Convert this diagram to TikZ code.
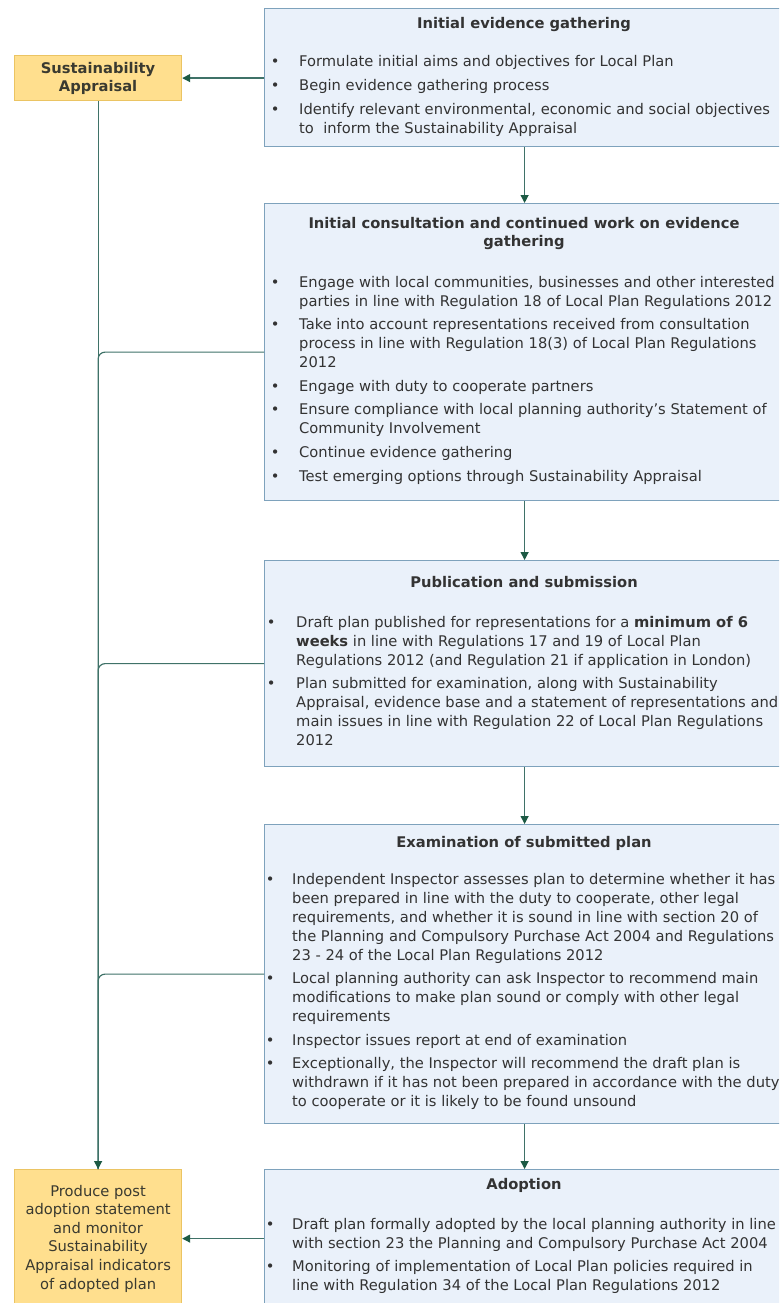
\documentclass[tikz,border=0pt]{standalone}
\usepackage{fontspec}
\setmainfont{DejaVu Sans}
\usetikzlibrary{arrows.meta}
\definecolor{boxfill}{HTML}{EAF1FA}
\definecolor{boxdraw}{HTML}{7EA2BC}
\definecolor{yfill}{HTML}{FFDF8E}
\definecolor{ydraw}{HTML}{EBC463}
\definecolor{conn}{HTML}{3F7268}
\definecolor{tipc}{HTML}{1D5A44}
\definecolor{txt}{HTML}{333333}
\definecolor{ytxt}{HTML}{3A3A30}
\newlength{\bw}
\newcommand{\bitem}[1]{\hangindent=\bw\hangafter=1\noindent\makebox[\bw][l]{\textbullet}#1\par}
\newcommand{\blist}[2]{\setlength{\bw}{#1}\parbox[t]{560pt}{\rightskip=0pt plus 1fil\parfillskip=0pt plus 1fil\fontsize{14.7}{19}\selectfont\setlength{\parskip}{4.6pt}#2}}
\begin{document}
\begin{tikzpicture}[x=1pt,y=-1pt,
  font=\fontsize{14.7}{19}\selectfont, text=txt,
  bbox/.style={anchor=north west, minimum width=520pt, draw=boxdraw, fill=boxfill, line width=1.2pt, inner sep=0pt},
  ybox/.style={anchor=north west, minimum width=167pt, draw=ydraw, fill=yfill, line width=1.2pt, inner sep=0pt},
  ttl/.style={font=\fontsize{14.7}{18}\selectfont\bfseries, anchor=base, inner sep=0pt},
  lst/.style={anchor=base west, inner sep=0pt},
  con/.style={draw=conn, line width=1.2pt},
  arr/.style={con, -{Triangle[length=8pt,width=8pt,color=tipc]}}]
\useasboundingbox (0,0) rectangle (779,1303);
\clip (0,0) rectangle (779,1303);
% boxes
\node[bbox, minimum height=138pt] (b1) at (264,8) {};
\node[bbox, minimum height=297pt] (b2) at (264,203) {};
\node[bbox, minimum height=206pt] (b3) at (264,560) {};
\node[bbox, minimum height=299pt] (b4) at (264,824) {};
\node[bbox, minimum height=138pt] (b5) at (264,1169) {};
\node[ybox, minimum height=45pt] (sa) at (14,55) {};
\node[ybox, minimum height=138pt] (pa) at (14,1169) {};
% connectors
\draw[arr] (b1.west |- sa.east) -- (sa.east);
\draw[arr] (b1.south) -- (b2.north);
\draw[arr] (b2.south) -- (b3.north);
\draw[arr] (b3.south) -- (b4.north);
\draw[arr] (b4.south) -- (b5.north);
\draw[con, rounded corners=7pt] (b2.west) -| (pa.north);
\draw[con, rounded corners=7pt] (b3.west) -| (pa.north);
\draw[con, rounded corners=7pt] (b4.west) -| (pa.north);
\draw[arr] (sa.south) -- (pa.north);
\draw[arr] (b5.west |- pa.east) -- (pa.east);
% yellow texts
\node[font=\fontsize{14.7}{18}\selectfont\bfseries, align=center, text=ytxt] (sat) at (sa.center) {Sustainability\\Appraisal};
\node[font=\fontsize{14.7}{18.6}\selectfont, align=center, text=ytxt] (pat) at (pa.center) {Produce post\\adoption statement\\and monitor\\Sustainability\\Appraisal indicators\\of adopted plan};
% titles
\node[ttl] (t1) at (524,29) {Initial evidence gathering};
\node[ttl, anchor=center, align=center] (t2) at (524,234) {Initial consultation and continued work on evidence\\gathering};
\node[ttl] (t3) at (524,587) {Publication and submission};
\node[ttl] (t4) at (524,847) {Examination of submitted plan};
\node[ttl] (t5) at (524,1189) {Adoption};
% lists
\node[lst] (l1) at (270.7,67) {\blist{28.3pt}{%
\bitem{Formulate initial aims and objectives for Local Plan}
\bitem{Begin evidence gathering process}
\bitem{Identify relevant environmental, economic and social objectives\\to\ \ inform the Sustainability Appraisal}}};
\node[lst] (l2) at (270.7,287) {\blist{28.3pt}{%
\bitem{Engage with local communities, businesses and other interested\\parties in line with Regulation 18 of Local Plan Regulations 2012}
\bitem{Take into account representations received from consultation\\process in line with Regulation 18(3) of Local Plan Regulations\\2012}
\bitem{Engage with duty to cooperate partners}
\bitem{Ensure compliance with local planning authority’s Statement of\\Community Involvement}
\bitem{Continue evidence gathering}
\bitem{Test emerging options through Sustainability Appraisal}}};
\node[lst] (l3) at (266.7,627) {\blist{29.3pt}{%
\bitem{Draft plan published for representations for a \textbf{minimum of 6}\\\textbf{weeks} in line with Regulations 17 and 19 of Local Plan\\Regulations 2012 (and Regulation 21 if application in London)}
\bitem{Plan submitted for examination, along with Sustainability\\Appraisal, evidence base and a statement of representations and\\main issues in line with Regulation 22 of Local Plan Regulations\\2012}}};
\node[lst] (l4) at (265.7,884) {\blist{26.3pt}{%
\bitem{Independent Inspector assesses plan to determine whether it has\\been prepared in line with the duty to cooperate, other legal\\requirements, and whether it is sound in line with section 20 of\\the Planning and Compulsory Purchase Act 2004 and Regulations\\23 - 24 of the Local Plan Regulations 2012}
\bitem{Local planning authority can ask Inspector to recommend main\\modifications to make plan sound or comply with other legal\\requirements}
\bitem{Inspector issues report at end of examination}
\bitem{Exceptionally, the Inspector will recommend the draft plan is\\withdrawn if it has not been prepared in accordance with the duty\\to cooperate or it is likely to be found unsound}}};
\node[lst] (l5) at (265.7,1229) {\blist{26.3pt}{%
\bitem{Draft plan formally adopted by the local planning authority in line\\with section 23 the Planning and Compulsory Purchase Act 2004}
\bitem{Monitoring of implementation of Local Plan policies required in\\line with Regulation 34 of the Local Plan Regulations 2012}}};
\end{tikzpicture}
\end{document}
